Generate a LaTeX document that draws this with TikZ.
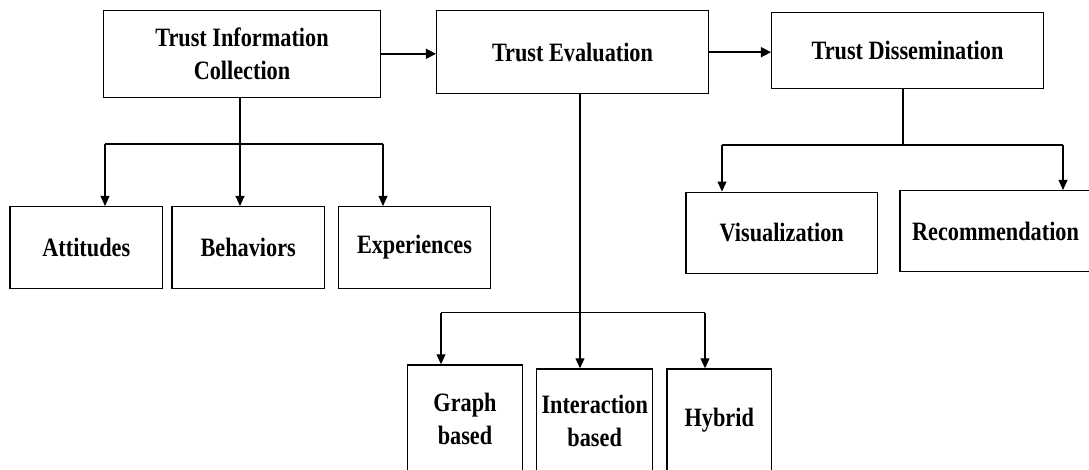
\documentclass[tikz,border=0pt]{standalone}
\usepackage{fontspec}
\setmainfont{Liberation Serif}[FakeStretch=0.84]
\usetikzlibrary{arrows.meta}

\begin{document}
\begin{tikzpicture}[x=1pt,y=-1pt,
  box/.style={draw, line width=1.5pt, rectangle, inner sep=0pt, align=center,
    font=\fontsize{26.5}{33}\selectfont\bfseries},
  link/.style={line width=1.1pt},
  arr/.style={line width=1.1pt, -{Triangle[length=10pt,width=9pt]}},
  mainarr/.style={line width=1.6pt, -{Triangle[length=10pt,width=10pt]}}]

\useasboundingbox (0,0) rectangle (1089,470);

% top row
\node[box, minimum width=277.4pt, minimum height=87pt] (tic) at (242,53.8)
  {Trust Information\\Collection};
\node[box, minimum width=271.6pt, minimum height=83pt] (te) at (572.5,52.2)
  {Trust Evaluation};
\node[box, minimum width=271.6pt, minimum height=75.6pt] (td) at (907.5,50.5)
  {\raisebox{-3pt}{Trust Dissemination}};

% collection sources
\node[box, minimum width=152.7pt, minimum height=81.6pt] (att) at (86.3,247.5)
  {\raisebox{-4pt}{Attitudes}};
\node[box, minimum width=152.3pt, minimum height=81.6pt] (beh) at (248.2,247.5)
  {Behaviors};
\node[box, minimum width=152.4pt, minimum height=81.6pt] (exp) at (414.5,247.5)
  {Experiences};

% dissemination modes
\node[box, minimum width=191.3pt, minimum height=81pt] (vis) at (781.7,232.8)
  {Visualization};
\node[box, minimum width=191pt, minimum height=81pt] (rec) at (995.5,231.2)
  {Recommendation};

% evaluation approaches
\node[box, minimum width=115.4pt, minimum height=107pt] (gb) at (465,418.5)
  {Graph\\based};
\node[box, minimum width=116pt, minimum height=103pt] (ib) at (594.7,420.5)
  {Interaction\\based};
\node[box, minimum width=104.7pt, minimum height=103pt] (hy) at (719.3,420.5)
  {Hybrid};

% process flow
\draw[mainarr] (tic.east) -- (te.west |- tic.east);
\draw[mainarr] (te.east) -- (td.west |- te.east);

% collection branch
\coordinate (c1) at (105,144);
\coordinate (c2) at (240,144);
\coordinate (c3) at (383,144);
\draw[link] (c1) -- (c3);
\draw[arr] (tic.south -| c2) -- (beh.north -| c2);
\draw[arr] (c1) -- (att.north -| c1);
\draw[arr] (c3) -- (exp.north -| c3);

% evaluation branch
\coordinate (e1) at (441,312.5);
\coordinate (e2) at (580,312.5);
\coordinate (e3) at (705,312.5);
\draw[link] (e1) -- (e3);
\draw[arr] (te.south -| e2) -- (ib.north -| e2);
\draw[arr] (e1) -- (gb.north -| e1);
\draw[arr] (e3) -- (hy.north -| e3);

% dissemination branch
\coordinate (d1) at (722,145);
\coordinate (d2) at (903,145);
\coordinate (d3) at (1063,145);
\draw[link] (d1) -- (d3);
\draw[link] (td.south -| d2) -- (d2);
\draw[arr] (d1) -- (vis.north -| d1);
\draw[arr] (d3) -- (rec.north -| d3);

\end{tikzpicture}
\end{document}
